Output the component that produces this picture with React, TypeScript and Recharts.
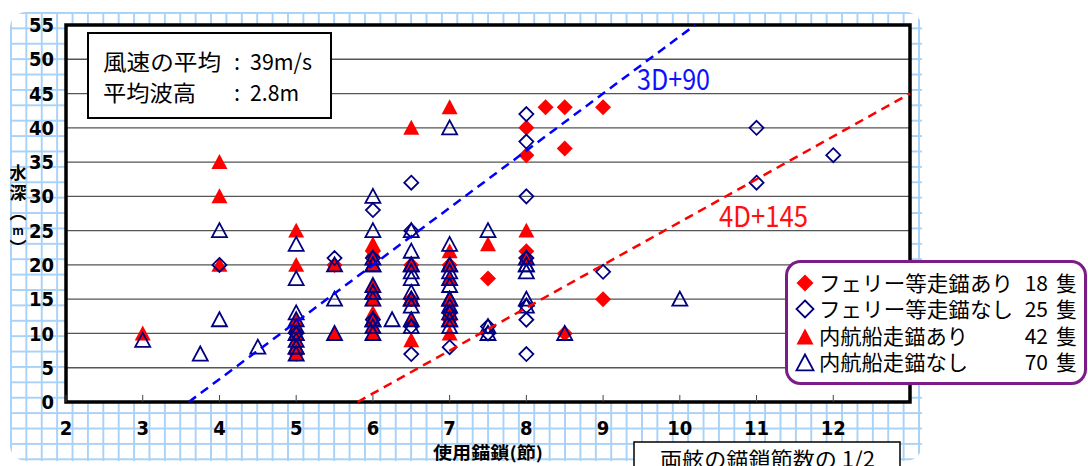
import React from 'react';
import { ScatterChart, Scatter, XAxis, YAxis, CartesianGrid, ReferenceArea } from 'recharts';

const W = 1088;
const H = 466;

const xTicks = [2, 3, 4, 5, 6, 7, 8, 9, 10, 11, 12];
const yTicks = [0, 5, 10, 15, 20, 25, 30, 35, 40, 45, 50, 55];

// フェリー等走錨あり (18隻)
const ferryAnchored: [number, number][] = [
  [5, 7], [5.5, 20], [6, 22], [6.5, 20], [6.5, 15], [7, 20], [7, 12], [7.5, 18], [8, 40],
  [8, 36], [8, 22], [8, 21], [8.25, 43], [8.5, 43], [8.5, 37], [8.5, 10], [9, 43], [9, 15],
];
// フェリー等走錨なし (25隻)
const ferryNot: [number, number][] = [
  [4, 20], [5.5, 21], [6, 28], [6, 21], [6.5, 32], [6.5, 25], [6.5, 11], [6.5, 7], [7, 8],
  [7.5, 11], [7.5, 10], [8, 42], [8, 38], [8, 30], [8, 21], [8, 14], [8, 12], [8, 7], [9, 19],
  [11, 40], [11, 32], [12, 36], [5, 10], [6, 12], [7, 13],
];
// 内航船走錨あり (42隻)
const coastalAnchored: [number, number][] = [
  [3, 10], [4, 35], [4, 30], [4, 20], [5, 25], [5, 20], [5, 12], [5, 11], [5, 10], [5, 9],
  [5, 8], [5, 7], [5.5, 20], [5.5, 10], [6, 23], [6, 22], [6, 21], [6, 20], [6, 17], [6, 16],
  [6, 15], [6, 13], [6, 12], [6, 11], [6.5, 40], [6.5, 20], [6.5, 15], [6.5, 9], [7, 43],
  [7, 22], [7, 18], [7, 15], [7, 14], [7, 12], [7, 10], [7.5, 23], [8, 25], [8, 21],
  [6.5, 12], [7, 20], [6, 10], [7, 13],
];
// 内航船走錨なし (70隻)
const coastalNot: [number, number][] = [
  [3, 9], [3.75, 7], [4, 25], [4, 12], [4.5, 8], [5, 23], [5, 18], [5, 13], [5, 12], [5, 11],
  [5, 10], [5, 9], [5, 8], [5, 7], [5.5, 20], [5.5, 15], [5.5, 10], [6, 30], [6, 25], [6, 21],
  [6, 20], [6, 17], [6, 16], [6, 15], [6, 12], [6, 11], [6, 10], [6.25, 12], [6.5, 25], [6.5, 22],
  [6.5, 20], [6.5, 19], [6.5, 18], [6.5, 16], [6.5, 15], [6.5, 14], [6.5, 12], [6.5, 11],
  [7, 40], [7, 23], [7, 20], [7, 19], [7, 18], [7, 17], [7, 15], [7, 14], [7, 13], [7, 12],
  [7, 11], [7.5, 25], [7.5, 11], [7.5, 10], [8, 21], [8, 20], [8, 19], [8, 15], [8, 14],
  [8.5, 10], [10, 15], [5, 10], [5, 8], [6, 20], [6, 16], [6, 12], [6.5, 20], [6.5, 15],
  [7, 20], [7, 15], [7, 12], [8, 20],
];

// 3D+90 and 4D+145 guide lines (endpoints within the plot)
const line3D90: [number, number][] = [[3.6, 0], [10.2, 55]];
const line4D145: [number, number][] = [[5.8, 0], [13, 45]];

const legendItems = [
  { label: 'フェリー等走錨あり', count: '18', kind: 'diamondFilled' },
  { label: 'フェリー等走錨なし', count: '25', kind: 'diamondOpen' },
  { label: '内航船走錨あり', count: '42', kind: 'triFilled' },
  { label: '内航船走錨なし', count: '70', kind: 'triOpen' },
];

const toPts = (a: [number, number][]) => a.map(([x, y]) => ({ x, y }));

const RED = '#ff0000';
const NAVY = '#000080';
const JP = "'Noto Sans CJK JP', 'Noto Sans', sans-serif";
const NUMFONT = "'Liberation Sans Narrow', 'DejaVu Sans Condensed', 'Liberation Sans', sans-serif";

function markerPath(kind: string, cx: number, cy: number, s: number) {
  if (kind.startsWith('diamond')) {
    return `M${cx},${cy - s}L${cx + s},${cy}L${cx},${cy + s}L${cx - s},${cy}Z`;
  }
  return `M${cx},${cy - s}L${cx + s},${cy + s * 0.87}L${cx - s},${cy + s * 0.87}Z`;
}

function Marker({ kind, cx, cy, s }: { kind: string; cx: number; cy: number; s: number }) {
  const filled = kind.endsWith('Filled');
  return (
    <path
      d={markerPath(kind, cx, cy, s)}
      fill={filled ? RED : 'none'}
      stroke={filled ? 'none' : NAVY}
      strokeWidth={1.8}
      strokeLinejoin="miter"
    />
  );
}

const shapeFor = (kind: string, s: number) => (props: any) => {
  const { cx, cy } = props;
  if (cx == null || cy == null) return <g />;
  return <Marker kind={kind} cx={cx} cy={cy} s={s} />;
};

const noShape = () => <g />;

const tickStyle = { fontFamily: NUMFONT, fontWeight: 700, fontSize: 20, fill: '#000' };

export default function App() {
  return (
    <div style={{ position: 'absolute', left: 0, top: 0, width: W, height: H, overflow: 'hidden', background: '#fff' }}>
      {/* graph paper background */}
      <div
        style={{
          position: 'absolute',
          left: 10,
          top: 12,
          width: 912,
          height: 449,
          borderRadius: 16,
          backgroundColor: '#fff',
          backgroundImage:
            'linear-gradient(to right, #a9d2f8 2px, transparent 2px), linear-gradient(to bottom, #a9d2f8 2px, transparent 2px)',
          backgroundSize: '15.4px 15.4px',
        }}
      />
      <div style={{ position: 'absolute', left: 0, top: 0 }}>
        <ScatterChart width={W} height={H} margin={{ top: 25, right: 178, bottom: 24, left: 10 }}>
          <CartesianGrid vertical={false} stroke="#555" strokeWidth={1.3} fill="#fff" fillOpacity={1} />
          <XAxis
            type="number"
            dataKey="x"
            domain={[2, 13]}
            ticks={xTicks}
            interval={0}
            height={40}
            axisLine={false}
            tickLine={{ stroke: '#444', strokeWidth: 1 }}
            tickSize={-7}
            tickMargin={26}
            tick={tickStyle}
          />
          <YAxis
            type="number"
            dataKey="y"
            domain={[0, 55]}
            ticks={yTicks}
            interval={0}
            width={56}
            axisLine={false}
            tickLine={false}
            tickSize={0}
            tickMargin={12}
            tick={tickStyle}
          />
          <ReferenceArea x1={2} x2={13} y1={0} y2={55} fill="none" fillOpacity={0} stroke="#000" strokeWidth={3.5} />
          <Scatter data={toPts(ferryAnchored)} shape={shapeFor('diamondFilled', 8)} isAnimationActive={false} />
          <Scatter data={toPts(coastalAnchored)} shape={shapeFor('triFilled', 8)} isAnimationActive={false} />
          <Scatter data={toPts(ferryNot)} shape={shapeFor('diamondOpen', 7)} isAnimationActive={false} />
          <Scatter data={toPts(coastalNot)} shape={shapeFor('triOpen', 7.5)} isAnimationActive={false} />
          <Scatter
            data={toPts(line3D90)}
            shape={noShape}
            line={{ stroke: '#0000ff', strokeWidth: 2.5, strokeDasharray: '9 6' }}
            lineType="joint"
            isAnimationActive={false}
          />
          <Scatter
            data={toPts(line4D145)}
            shape={noShape}
            line={{ stroke: '#ff0000', strokeWidth: 2.5, strokeDasharray: '9 6' }}
            lineType="joint"
            isAnimationActive={false}
          />
        </ScatterChart>
      </div>
      {/* annotations */}
      <svg width={W} height={H} style={{ position: 'absolute', left: 0, top: 0, pointerEvents: 'none' }}>
        {/* info box */}
        <rect x={88} y={33} width={243} height={85} fill="#fff" stroke="#000" strokeWidth={2} />
        <g fontFamily={JP} fontSize={22} fill="#000">
          <text x={103} y={70} textLength={118} lengthAdjust="spacingAndGlyphs">風速の平均</text>
          <text x={234} y={70}>:</text>
          <text x={250} y={70} textLength={62} lengthAdjust="spacingAndGlyphs">39m/s</text>
          <text x={103} y={101} textLength={93} lengthAdjust="spacingAndGlyphs">平均波高</text>
          <text x={234} y={101}>:</text>
          <text x={250} y={101} textLength={49} lengthAdjust="spacingAndGlyphs">2.8m</text>
        </g>
        {/* equation labels */}
        <text x={637} y={90} fontFamily={JP} fontSize={29} fill="#1010ff" textLength={73} lengthAdjust="spacingAndGlyphs">3D+90</text>
        <text x={719} y={227} fontFamily={JP} fontSize={29} fill="#ff1010" textLength={89} lengthAdjust="spacingAndGlyphs">4D+145</text>
        {/* y-axis title (vertical) */}
        <text
          x={18}
          y={164}
          fontFamily={JP}
          fontWeight={700}
          fontSize={17}
          fill="#000"
          letterSpacing={3}
          style={{ writingMode: 'vertical-rl', textOrientation: 'upright' } as any}
        >
          水深（<tspan fontSize={12}>m</tspan>）
        </text>
        {/* x-axis title */}
        <text x={433} y={459} fontFamily={JP} fontWeight={700} fontSize={17} fill="#000" textLength={110} lengthAdjust="spacingAndGlyphs">使用錨鎖(節)</text>
        {/* note box */}
        <rect x={634} y={442} width={266} height={40} fill="#fff" stroke="#000" strokeWidth={1.5} />
        <text x={660} y={467} fontFamily={JP} fontSize={21} fill="#000" textLength={215} lengthAdjust="spacingAndGlyphs">両舷の錨鎖節数の 1/2</text>
        {/* legend */}
        <rect x={786.5} y={261.5} width={299} height={122} rx={14} ry={14} fill="#fff" stroke="#7b1c89" strokeWidth={3} />
        {legendItems.map((it, i) => {
          const cy = [283, 309, 336, 362][i];
          const long = i < 2;
          return (
            <g key={it.label}>
              <Marker kind={it.kind} cx={805} cy={cy + (it.kind.startsWith('tri') ? 1 : 0)} s={8.5} />
              <text x={819} y={cy + 8} fontFamily={JP} fontSize={21} fill="#000" textLength={long ? 194 : 149} lengthAdjust="spacingAndGlyphs">
                {it.label}
              </text>
              <text x={1048} y={cy + 8} fontFamily={JP} fontSize={21} fill="#000" textAnchor="end">{it.count}</text>
              <text x={1056} y={cy + 8} fontFamily={JP} fontSize={21} fill="#000">隻</text>
            </g>
          );
        })}
      </svg>
    </div>
  );
}
